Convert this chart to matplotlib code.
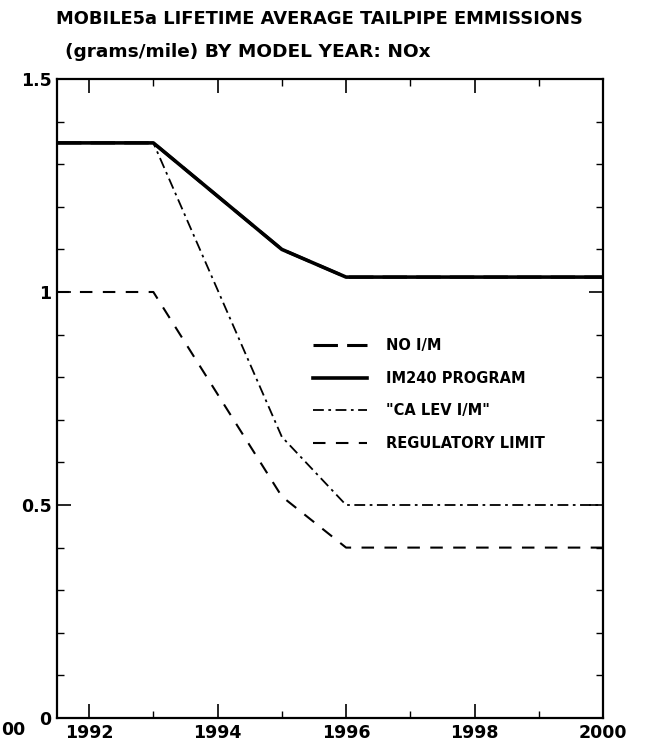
import matplotlib
matplotlib.use("Agg")
import matplotlib.pyplot as plt
from matplotlib.ticker import MultipleLocator

years = [1991.5, 1993, 1994, 1995, 1996, 2000]
no_im = [1.35, 1.35, 1.225, 1.10, 1.035, 1.035]
im240 = [1.35, 1.35, 1.225, 1.10, 1.035, 1.035]
ca_lev = [1.35, 1.35, 1.005, 0.66, 0.50, 0.50]
reg_limit = [1.00, 1.00, 0.76, 0.52, 0.40, 0.40]

series_labels = ["NO I/M", "IM240 PROGRAM", "\"CA LEV I/M\"", "REGULATORY LIMIT"]
xtick_vals = [1992, 1994, 1996, 1998, 2000]
ytick_vals = [0, 0.5, 1, 1.5]
ytick_labels = ["0", "0.5", "1", "1.5"]

W, H = 646, 746
fig = plt.figure(figsize=(W / 100, H / 100), dpi=100)
ax = fig.add_axes([57 / W, 1 - 718 / H, (603 - 57) / W, (718 - 79) / H])

font = "DejaVu Sans"
ax.plot(years, no_im, color="black", lw=2.2, linestyle=(0, (8, 3)), label=series_labels[0])
ax.plot(years, im240, color="black", lw=2.6, linestyle="-", label=series_labels[1])
ax.plot(years, ca_lev, color="black", lw=1.3, linestyle=(0, (6, 2.5, 1.5, 2.5)), label=series_labels[2])
ax.plot(years, reg_limit, color="black", lw=1.5, linestyle=(0, (6, 5)), label=series_labels[3])

ax.set_xlim(1991.5, 2000)
ax.set_ylim(0, 1.5)
ax.set_xticks(xtick_vals)
ax.set_xticklabels([str(v) for v in xtick_vals])
ax.xaxis.set_minor_locator(MultipleLocator(1))
ax.set_yticks(ytick_vals)
ax.set_yticklabels(ytick_labels)
ax.yaxis.set_minor_locator(MultipleLocator(0.1))
ax.tick_params(which="both", direction="in", top=True, right=True, color="black")
ax.tick_params(which="major", length=10, width=1.2, labelsize=12.5, pad=4)
ax.tick_params(which="minor", length=5, width=1.0)
for lab in ax.get_xticklabels() + ax.get_yticklabels():
    lab.set_fontweight("bold")
    lab.set_family(font)
for s in ax.spines.values():
    s.set_linewidth(1.6)

leg = ax.legend(loc="upper left", bbox_to_anchor=((300 - 57) / (603 - 57), 1 - (325 - 79) / (718 - 79)),
                frameon=False, handlelength=3.7, handletextpad=1.3, labelspacing=1.2,
                prop={"family": font, "weight": "bold", "size": 10.5})

fig.text(56 / W, 1 - 19 / H, "MOBILE5a LIFETIME AVERAGE TAILPIPE EMMISSIONS",
         ha="left", va="center", fontsize=12.9, fontweight="bold", family=font)
fig.text(65 / W, 1 - 52 / H, "(grams/mile) BY MODEL YEAR: NOx",
         ha="left", va="center", fontsize=13.3, fontweight="bold", family=font)
fig.text(1 / W, 1 - 730 / H, "00", ha="left", va="center", fontsize=12.5,
         fontweight="bold", family=font)

fig.savefig("out.png", dpi=100)
